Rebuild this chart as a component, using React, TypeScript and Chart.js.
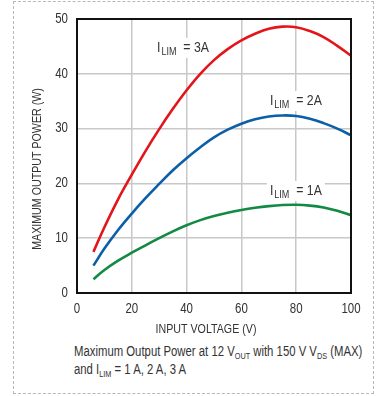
import React, { useEffect, useRef } from "react";
import { Chart, registerables } from "chart.js";

Chart.register(...registerables);

const FONT = "'Liberation Sans', Arial, sans-serif";
const SQUEEZE = 0.82;

const inputVoltage = [6, 10, 15, 20, 25, 30, 35, 40, 45, 50, 55, 60, 65, 70, 75, 80, 85, 90, 95, 100];
const power3A = [7.5, 12.0, 17.1, 21.6, 25.9, 29.9, 33.6, 37.0, 40.0, 42.5, 44.5, 46.1, 47.3, 48.2, 48.6, 48.5, 47.8, 46.7, 45.1, 43.3];
const power2A = [5.0, 8.1, 11.5, 14.5, 17.3, 19.9, 22.4, 24.6, 26.6, 28.4, 29.8, 30.9, 31.7, 32.2, 32.4, 32.3, 31.8, 31.0, 30.0, 28.8];
const power1A = [2.5, 4.2, 5.9, 7.35, 8.7, 10.0, 11.25, 12.35, 13.3, 14.05, 14.65, 15.15, 15.55, 15.85, 16.05, 16.1, 15.95, 15.6, 15.0, 14.2];

const seriesLabels = ["3A", "2A", "1A"];
const seriesColors = ["#e3151b", "#0b5ea8", "#128a43"];
const labelAnchors = [
  { x: 29.2, y: 44.0 },
  { x: 70.4, y: 34.3 },
  { x: 70.4, y: 17.9 },
];

const xTicks = [0, 20, 40, 60, 80, 100];
const yTicks = [0, 10, 20, 30, 40, 50];
const xTitle = "INPUT VOLTAGE (V)";
const yTitle = "MAXIMUM OUTPUT POWER (W)";

const CANVAS_W = 378;
const CANVAS_H = 340;
const TEXT = "#333333";

function squeezedText(ctx: any, text: string, x: number, y: number, size: number, align: string, baseline: string, rot = 0) {
  ctx.save();
  ctx.translate(x, y);
  if (rot) ctx.rotate(rot);
  ctx.scale(SQUEEZE, 1);
  ctx.font = `${size}px ${FONT}`;
  ctx.textAlign = align;
  ctx.textBaseline = baseline;
  ctx.fillStyle = TEXT;
  ctx.fillText(text, 0, 0);
  ctx.restore();
}

function textWidth(ctx: any, text: string, size: number) {
  ctx.save();
  ctx.font = `${size}px ${FONT}`;
  const w = ctx.measureText(text).width * SQUEEZE;
  ctx.restore();
  return w;
}

const textPlugin = {
  id: "customText",
  beforeDatasetsDraw(chart: any) {
    const ctx = chart.ctx;
    const xs = chart.scales.x;
    const ys = chart.scales.y;
    seriesLabels.forEach((lab, i) => {
      const a = labelAnchors[i];
      const px = xs.getPixelForValue(a.x);
      const py = ys.getPixelForValue(a.y);
      const rest = "  = " + lab;
      const wI = textWidth(ctx, "I", 15);
      const wSub = textWidth(ctx, "LIM", 11);
      const wRest = textWidth(ctx, rest, 15);
      const total = wI + 1 + wSub + wRest;
      ctx.save();
      ctx.fillStyle = "#ffffff";
      ctx.fillRect(px - 3, py - 14, total + 6, 20);
      ctx.restore();
      squeezedText(ctx, "I", px, py, 15, "left", "alphabetic");
      squeezedText(ctx, "LIM", px + wI + 1, py + 3, 11, "left", "alphabetic");
      squeezedText(ctx, rest, px + wI + 1 + wSub, py, 15, "left", "alphabetic");
    });
  },
  afterDraw(chart: any) {
    const { left, right, top, bottom } = chart.chartArea;
    const ctx = chart.ctx;
    const xs = chart.scales.x;
    const ys = chart.scales.y;
    ctx.save();
    ctx.strokeStyle = "#111111";
    ctx.lineWidth = 2;
    ctx.strokeRect(left, top, right - left, bottom - top);
    ctx.restore();
    xTicks.forEach((v) => {
      squeezedText(ctx, String(v), xs.getPixelForValue(v), bottom + 20, 14, "center", "alphabetic");
    });
    yTicks.forEach((v) => {
      squeezedText(ctx, String(v), left - 9, ys.getPixelForValue(v), 14, "right", "middle");
    });
    squeezedText(ctx, xTitle, (left + right) / 2 - 8, bottom + 36, 13, "center", "middle");
    squeezedText(ctx, yTitle, 37, (top + bottom) / 2 + 13, 13, "center", "middle", -Math.PI / 2);
  },
};

export default function App() {
  const ref = useRef<HTMLCanvasElement | null>(null);
  useEffect(() => {
    if (!ref.current) return;
    const mk = (data: number[], i: number) => ({
      label: "ILIM = " + seriesLabels[i],
      data: inputVoltage.map((x, k) => ({ x, y: data[k] })),
      borderColor: seriesColors[i],
      backgroundColor: seriesColors[i],
      borderWidth: 2.6,
      pointRadius: 0,
      tension: 0.4,
      fill: false,
    });
    const chart = new Chart(ref.current, {
      type: "line",
      data: {
        datasets: [mk(power3A, 0), mk(power2A, 1), mk(power1A, 2)],
      },
      plugins: [textPlugin],
      options: {
        responsive: false,
        animation: false,
        maintainAspectRatio: false,
        layout: { padding: { left: 0, right: 27, top: 19, bottom: 0 } },
        plugins: { legend: { display: false }, tooltip: { enabled: false } },
        scales: {
          x: {
            type: "linear",
            min: 0,
            max: 100,
            afterBuildTicks: (s: any) => {
              s.ticks = xTicks.map((v) => ({ value: v }));
            },
            afterFit: (s: any) => {
              s.height = CANVAS_H - 293;
            },
            grid: { color: "#c8c8c8", lineWidth: 1.5, drawTicks: false },
            border: { display: false },
            ticks: { display: false },
          },
          y: {
            type: "linear",
            min: 0,
            max: 50,
            afterBuildTicks: (s: any) => {
              s.ticks = yTicks.map((v) => ({ value: v }));
            },
            afterFit: (s: any) => {
              s.width = 77;
            },
            grid: { color: "#c8c8c8", lineWidth: 1.5, drawTicks: false },
            border: { display: false },
            ticks: { display: false },
          },
        },
      },
    });
    return () => chart.destroy();
  }, []);

  const sub: React.CSSProperties = { fontSize: 9, verticalAlign: -3, lineHeight: 0 };
  return (
    <div style={{ position: "absolute", left: 0, top: 0, width: 378, height: 396, background: "#fff" }}>
      <div
        style={{
          position: "absolute",
          left: 13,
          top: 1,
          width: 359,
          height: 391,
          border: "1px dashed #b8b8b8",
        }}
      />
      <canvas
        ref={ref}
        width={CANVAS_W}
        height={CANVAS_H}
        style={{ position: "absolute", left: 0, top: 0, width: CANVAS_W, height: CANVAS_H }}
      />
      <div
        style={{
          position: "absolute",
          left: 74,
          top: 342,
          fontFamily: FONT,
          fontSize: 14,
          lineHeight: "18px",
          color: TEXT,
          whiteSpace: "nowrap",
          transform: "scaleX(0.81)",
          transformOrigin: "0 0",
        }}
      >
        <div>
          Maximum Output Power at 12 V<span style={sub}>OUT</span> with 150 V V<span style={sub}>DS</span> (MAX)
        </div>
        <div>
          and I<span style={sub}>LIM</span> = 1 A, 2 A, 3 A
        </div>
      </div>
    </div>
  );
}
